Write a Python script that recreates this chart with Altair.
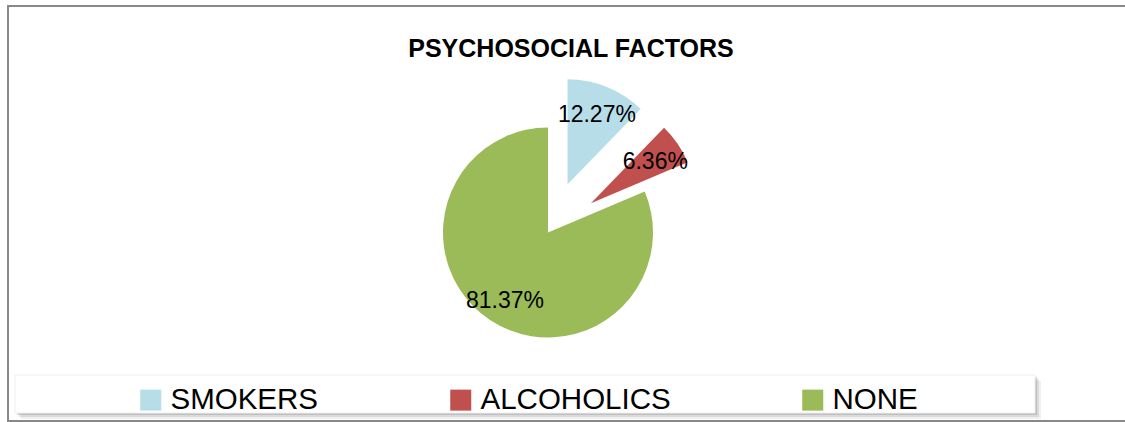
import altair as alt
import pandas as pd

# ---- data ----
categories = ["SMOKERS", "ALCOHOLICS", "NONE"]
percentages = [12.27, 6.36, 81.37]
slice_order = [0, 1, 2]
colors = ["#B7DEE8", "#C0504D", "#9BBB59"]
title_text = "PSYCHOSOCIAL FACTORS"

df = pd.DataFrame({"category": categories, "pct": percentages, "order": slice_order})

# ---- layout constants ----
W, H = 1125, 422
CX, CY, R = 548, 232.5, 105
EXPLODE = 52
LABEL_R = 78
FONT = "Liberation Sans"

base = (
    alt.Chart(df)
    .transform_window(cum="sum(pct)", sort=[alt.SortField("order")], frame=[None, 0])
    .transform_joinaggregate(total="sum(pct)")
    .transform_calculate(
        t0="(datum.cum - datum.pct) / datum.total * 2 * PI",
        t1="datum.cum / datum.total * 2 * PI",
        ex=f"datum.category == 'NONE' ? 0 : {EXPLODE}",
    )
    .transform_calculate(mid="(datum.t0 + datum.t1) / 2")
    .transform_calculate(
        cx=f"{CX} + datum.ex * sin(datum.mid)",
        cy=f"{CY} - datum.ex * cos(datum.mid)",
    )
    .transform_calculate(
        lx=f"datum.cx + {LABEL_R} * sin(datum.mid)",
        ly=f"datum.cy - {LABEL_R} * cos(datum.mid) + 3",
        label="format(datum.pct, '.2f') + '%'",
    )
)

pie = base.mark_arc(outerRadius=R, stroke=None).encode(
    theta=alt.Theta("t0:Q", scale=None),
    theta2="t1:Q",
    x=alt.X("cx:Q", scale=None),
    y=alt.Y("cy:Q", scale=None),
    color=alt.Color(
        "category:N",
        scale=alt.Scale(domain=categories, range=colors),
        sort=categories,
        legend=alt.Legend(
            orient="none",
            legendX=136,
            legendY=385,
            direction="horizontal",
            title=None,
            symbolType="square",
            symbolSize=441,
            symbolStrokeWidth=0,
            symbolOpacity=1,
            labelFontSize=29.5,
            labelFont=FONT,
            labelColor="black",
            labelOffset=5,
            labelLimit=400,
            columnPadding=127,
            padding=0,
        ),
    ),
)

labels = base.mark_text(
    font=FONT, fontSize=23, color="black", align="center", baseline="middle"
).encode(
    x=alt.X("lx:Q", scale=None),
    y=alt.Y("ly:Q", scale=None),
    text="label:N",
)

dummy = pd.DataFrame({"d": [0]})

border = alt.Chart(dummy).mark_rect(fill=None, stroke="#888888", strokeWidth=2).encode(
    x=alt.value(8), x2=alt.value(1140), y=alt.value(6), y2=alt.value(421)
)

shadows = []
for off, op in [(6, 0.12), (4, 0.2), (2, 0.3)]:
    shadows.append(
        alt.Chart(dummy).mark_rect(fill="#808080", opacity=op).encode(
            x=alt.value(15 + off), x2=alt.value(1035 + off),
            y=alt.value(375 + off), y2=alt.value(413 + off),
        )
    )

box = alt.Chart(dummy).mark_rect(fill="white", stroke="#eeeeee", strokeWidth=1).encode(
    x=alt.value(15), x2=alt.value(1035), y=alt.value(375), y2=alt.value(413)
)

title = alt.Chart(dummy).mark_text(
    text=title_text, font=FONT, fontSize=25, fontWeight="bold", color="black",
    align="center", baseline="alphabetic",
).encode(x=alt.value(571), y=alt.value(57))

chart = alt.layer(border, *shadows, box, pie, labels, title).properties(
    width=W, height=H, autosize=alt.AutoSizeParams(type="none"), padding=0,
    background="white",
).configure_view(stroke=None)

chart.save("out.html", embed_options={"renderer": "svg", "actions": False})
